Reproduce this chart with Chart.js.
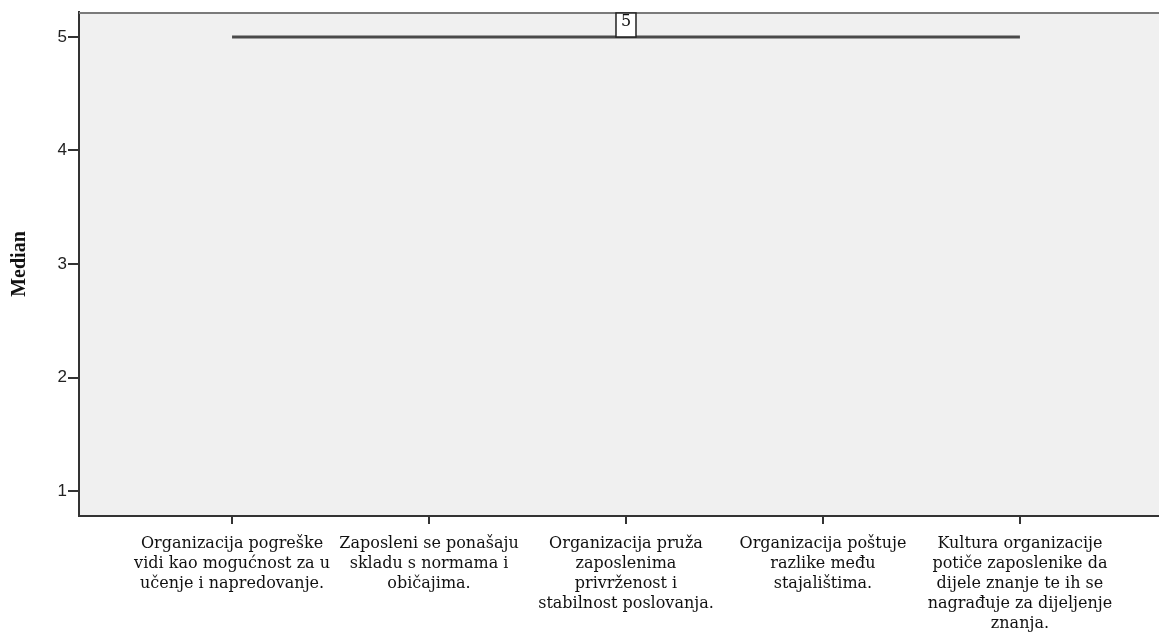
<!DOCTYPE html>
<html>
<head>
<meta charset="utf-8">
<script src="https://cdn.jsdelivr.net/npm/chart.js@4"></script>
<style>
html, body { margin: 0; padding: 0; background: #fff; overflow: hidden; }
#wrap { width: 1159px; height: 633px; position: relative; }
</style>
</head>
<body>
<div id="wrap"><canvas id="medianChart"></canvas></div>
<script>
const categories = [
    ['Organizacija pogreške', 'vidi kao mogućnost za u', 'učenje i napredovanje.'],
    ['Zaposleni se ponašaju', 'skladu s normama i', 'običajima.'],
    ['Organizacija pruža', 'zaposlenima', 'privrženost i', 'stabilnost poslovanja.'],
    ['Organizacija poštuje', 'razlike među', 'stajalištima.'],
    ['Kultura organizacije', 'potiče zaposlenike da', 'dijele znanje te ih se', 'nagrađuje za dijeljenje', 'znanja.']
];
const medians = [5, 5, 5, 5, 5];
const yTicks = [1, 2, 3, 4, 5];
const labelIndex = 2; // point that carries the value label

const points = medians.map((v, i) => ({ x: i, y: v }));

const plotBackground = {
    id: 'plotBackground',
    beforeDraw(chart) {
        const { ctx, chartArea } = chart;
        ctx.save();
        ctx.fillStyle = '#f0f0f0';
        ctx.fillRect(chartArea.left, chartArea.top, chartArea.right - chartArea.left, chartArea.bottom - chartArea.top);
        ctx.restore();
    },
    afterDraw(chart) {
        const { ctx, chartArea } = chart;
        ctx.save();
        ctx.strokeStyle = '#7a7a7a';
        ctx.lineWidth = 2;
        ctx.beginPath();
        ctx.moveTo(chartArea.left, chartArea.top + 1);
        ctx.lineTo(chartArea.right, chartArea.top + 1);
        ctx.stroke();

        // boxed value label
        const xs = chart.scales.x, ys = chart.scales.y;
        const px = xs.getPixelForValue(labelIndex);
        const py = ys.getPixelForValue(medians[labelIndex]);
        const w = 20, top = chartArea.top + 1;
        ctx.fillStyle = '#fff';
        ctx.fillRect(px - w / 2, top, w, py - top);
        ctx.strokeStyle = '#222';
        ctx.lineWidth = 1.5;
        ctx.strokeRect(px - w / 2, top, w, py - top);
        ctx.fillStyle = '#111';
        ctx.font = '16px "DejaVu Serif"';
        ctx.textAlign = 'center';
        ctx.textBaseline = 'top';
        ctx.fillText(String(medians[labelIndex]), px, top + 1);
        ctx.restore();
    }
};

new Chart(document.getElementById('medianChart'), {
    type: 'line',
    data: {
        datasets: [{
            label: 'Median',
            data: points,
            borderColor: '#4a4a4a',
            borderWidth: 3,
            pointRadius: 0,
            fill: false
        }]
    },
    options: {
        responsive: true,
        maintainAspectRatio: false,
        animation: false,
        layout: { padding: { top: 12, right: 0, left: 0, bottom: 0 } },
        plugins: {
            legend: { display: false },
            tooltip: { enabled: false }
        },
        scales: {
            x: {
                type: 'linear',
                min: -0.777,
                max: 4.706,
                afterBuildTicks(scale) {
                    scale.ticks = categories.map((c, i) => ({ value: i }));
                },
                afterFit(scale) { scale.height = 117; },
                ticks: {
                    autoSkip: false,
                    maxRotation: 0,
                    padding: 10,
                    color: '#111',
                    font: { family: '"DejaVu Serif"', size: 16, lineHeight: '20px' },
                    callback: (v) => categories[v]
                },
                grid: { drawOnChartArea: false, drawTicks: true, tickLength: 8, color: '#333', lineWidth: 2 },
                border: { display: true, color: '#333', width: 2 }
            },
            y: {
                min: 0.78,
                max: 5.22,
                afterBuildTicks(scale) {
                    scale.ticks = yTicks.map(v => ({ value: v }));
                },
                afterFit(scale) { scale.width = 79; },
                ticks: {
                    padding: 1,
                    color: '#222',
                    font: { family: '"Liberation Sans"', size: 17 }
                },
                grid: { drawOnChartArea: false, drawTicks: true, tickLength: 11, color: '#333', lineWidth: 2 },
                border: { display: true, color: '#333', width: 2 },
                title: {
                    display: true,
                    text: 'Median',
                    color: '#111',
                    padding: { top: 8, bottom: 8 },
                    font: { family: '"Liberation Serif"', size: 20, weight: 'bold' }
                }
            }
        }
    },
    plugins: [plotBackground]
});
</script>
</body>
</html>
